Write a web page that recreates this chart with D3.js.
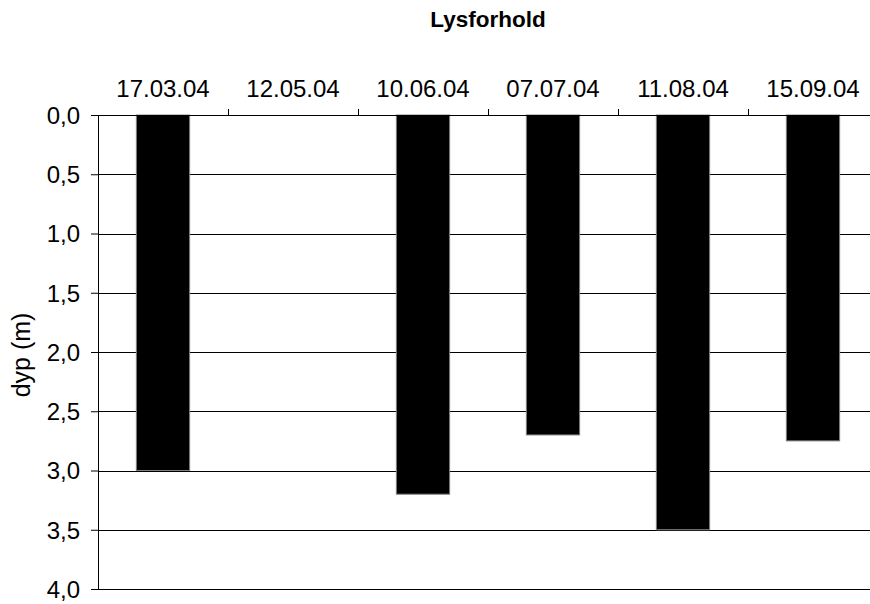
<!DOCTYPE html>
<html lang="no">

<head>
  <meta charset="utf-8">
  <title>Lysforhold</title>
  <script src="https://cdn.jsdelivr.net/npm/d3@7"></script>
  <style>
    body { margin: 0; background: #fff; }
    text { font-family: "Liberation Sans", Arial, sans-serif; fill: #000; }
  </style>
</head>

<body>
  <script>
    var dates = ["17.03.04", "12.05.04", "10.06.04", "07.07.04", "11.08.04", "15.09.04"];
    var depths = [3.0, null, 3.2, 2.7, 3.5, 2.75];
    var yTicks = [0, 0.5, 1, 1.5, 2, 2.5, 3, 3.5, 4];

    var w = 870;
    var h = 604;
    var margin = { top: 115, left: 98, right: -8, bottom: 15 };
    var width = w - margin.left - margin.right;
    var height = h - margin.top - margin.bottom;

    var x = d3.scaleBand()
      .domain(dates)
      .range([0, width])
      .paddingInner(0)
      .paddingOuter(0);
    var y = d3.scaleLinear()
      .domain([0, 4])
      .range([0, height]);

    var svg = d3.select("body").append("svg")
      .attr("width", w)
      .attr("height", h);

    svg.append("text")
      .attr("x", margin.left + width / 2)
      .attr("y", 27)
      .attr("text-anchor", "middle")
      .style("font-size", "22.5px")
      .style("font-weight", "bold")
      .text("Lysforhold");

    var g = svg.append("g")
      .attr("transform", "translate(" + margin.left + "," + margin.top + ")");

    // gridlines
    g.selectAll(".grid")
      .data(yTicks.slice(1))
      .enter()
      .append("line")
      .attr("x1", 0)
      .attr("x2", width)
      .attr("y1", function (d) { return Math.round(y(d)) + 0.5; })
      .attr("y2", function (d) { return Math.round(y(d)) + 0.5; })
      .attr("stroke", "#000")
      .attr("stroke-width", 1);

    // bars
    g.selectAll(".bar")
      .data(depths.map(function (d, i) { return { date: dates[i], v: d }; })
        .filter(function (d) { return d.v != null; }))
      .enter()
      .append("rect")
      .attr("x", function (d) { return x(d.date) + x.bandwidth() * 0.295; })
      .attr("y", y(0))
      .attr("width", x.bandwidth() * 0.41)
      .attr("height", function (d) { return y(d.v); })
      .attr("fill", "#000")
      .attr("stroke", "#808080")
      .attr("stroke-width", 1);

    // y axis
    var yAxis = g.append("g")
      .attr("class", "y-axis")
      .call(d3.axisLeft(y)
        .tickValues(yTicks)
        .tickSize(7)
        .tickPadding(11)
        .tickFormat(function (d) { return d3.format(".1f")(d).replace(".", ","); }));
    yAxis.select(".domain").attr("stroke", "#000").attr("d", "M0.5,0V" + height);
    yAxis.selectAll(".tick line").attr("stroke", "#000");
    yAxis.selectAll("text").style("font-size", "24px").attr("dy", "0.35em");

    // x axis on top
    var xAxis = g.append("g")
      .attr("class", "x-axis")
      .call(d3.axisTop(x).tickSize(0).tickPadding(18));
    xAxis.select(".domain").attr("stroke", "#000").attr("d", "M0,0.5H" + width);
    xAxis.selectAll("text").style("font-size", "24px");
    xAxis.selectAll(".sep")
      .data(dates.slice(1))
      .enter()
      .append("line")
      .attr("x1", function (d) { return Math.round(x(d)) + 0.5; })
      .attr("x2", function (d) { return Math.round(x(d)) + 0.5; })
      .attr("y1", -6)
      .attr("y2", 0)
      .attr("stroke", "#000");

    svg.append("text")
      .attr("transform", "translate(30,355) rotate(-90)")
      .attr("text-anchor", "middle")
      .style("font-size", "25px")
      .text("dyp (m)");
  </script>
</body>

</html>
